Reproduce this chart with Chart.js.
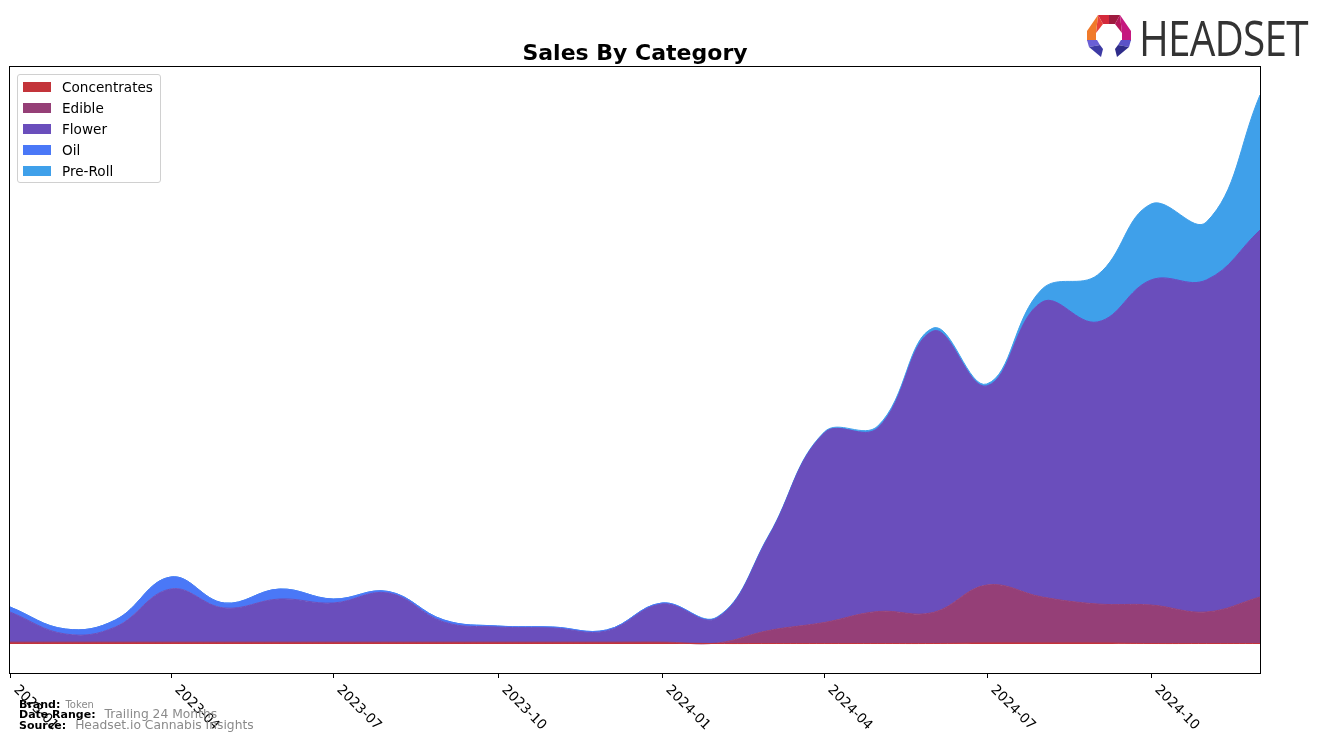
<!DOCTYPE html>
<html>
<head>
<meta charset="utf-8">
<script src="https://cdn.jsdelivr.net/npm/chart.js@4.4.0/dist/chart.umd.min.js"></script>
<style>
  html, body { margin: 0; padding: 0; background: #fff; }
  body { width: 1324px; height: 743px; position: relative; overflow: hidden; font-family: "DejaVu Sans", sans-serif; }
  #wrap { position: absolute; left: 0; top: 0; width: 1324px; height: 743px; }
  .title { position: absolute; left: 0; width: 1270px; top: 40px; text-align: center; font-size: 22px; font-weight: bold; color: #000; line-height: 26px; }
  .legend { position: absolute; left: 17px; top: 74px; width: 142px; height: 107px; border: 1px solid #d0d0d0; border-radius: 3px; background: rgba(255,255,255,0.85); }
  .legend .item { position: absolute; left: 5px; height: 14px; font-size: 13.6px; line-height: 14px; color: #000; }
  .legend .sw { position: absolute; left: 0; top: 2px; width: 28px; height: 10px; }
  .legend .lab { position: absolute; left: 39px; top: 0; white-space: nowrap; }
  .foot { position: absolute; left: 19px; white-space: nowrap; color: #000; }
  .foot b { font-size: 11px; }
  .foot span { color: #8a8a8a; }
  .logoText { position: absolute; left: 1139px; top: 9px; font-family: "Open Sans", sans-serif; font-size: 50px; line-height: 56px; color: #333; transform-origin: 0 0; transform: scaleX(0.81); letter-spacing: -1px; }
</style>
</head>
<body>
<div id="wrap"><canvas id="c" width="1324" height="743"></canvas></div>
<div class="title">Sales By Category</div>
<div class="legend" id="legend"></div>
<svg style="position:absolute;left:1086px;top:14px" width="46" height="45" viewBox="0 0 46 45">
  <polygon points="12,1 23,1 23,10 17,10" fill="#d42a3c"/>
  <polygon points="23,1 34,1 29,10 23,10" fill="#9e1b3f"/>
  <polygon points="12,1 17,10 10,19" fill="#e8413a"/>
  <polygon points="34,1 29,10 36,19" fill="#b5185a"/>
  <polygon points="12,1 10,19 10,27 1,27 1,17" fill="#f07a2a"/>
  <polygon points="34,1 36,19 36,27 45,27 45,17" fill="#c5187f"/>
  <polygon points="1,26 11,26 14,31 3,33" fill="#6a5fd6"/>
  <polygon points="3,33 14,31 17,35 15,43" fill="#3d3aa4"/>
  <polygon points="45,26 35,26 32,31 43,33" fill="#5a52c8"/>
  <polygon points="43,33 32,31 29,35 31,43" fill="#2e2c8a"/>
</svg>
<div class="logoText">HEADSET</div>
<div class="foot" style="top:693px;"><b>Brand:</b> <span style="font-size:10px;">Token</span></div>
<div class="foot" style="top:703px;"><b>Date Range:</b> <span style="font-size:12.3px;">&nbsp;Trailing 24 Months</span></div>
<div class="foot" style="top:714px;"><b>Source:</b> <span style="font-size:12.3px;">&nbsp;Headset.io Cannabis Insights</span></div>
<script>
// ---- Data ----
const months = ['2023-01','2023-02','2023-03','2023-04','2023-05','2023-06','2023-07','2023-08','2023-09','2023-10','2023-11','2023-12',
                '2024-01','2024-02','2024-03','2024-04','2024-05','2024-06','2024-07','2024-08','2024-09','2024-10','2024-11','2024-12'];
const concentrates = [1,1,1,1,1,1,1,1,1,1,1,1,1,0.5,0.5,0.5,0.5,0.5,1,1,1,0.5,0.5,0.5];
const edible       = [1,1,1,1,1,1,1,1,1,1,1,1,1,0.5,13,21,32,31,58,46,39,38.5,31.5,46.5];
const flower       = [30,8,15,53,34,43,39,49,20,15,14,11,38,25,94.5,189.5,183.5,281.5,199,295,282,325,332,367];
const oil          = [5,5,7,12,5,10,4,1.5,2,1,1,1,1,0.5,0,0,0,0,0,0,0,0,0,0];
const preRoll      = [0,0,0,0,0,0,0,0,0,0,0,0,0,0.5,1,1,2,3,2,13,47,76,58,135];
const tickLabels   = ['2023-01','2023-04','2023-07','2023-10','2024-01','2024-04','2024-07','2024-10'];
const seriesNames  = ['Concentrates','Edible','Flower','Oil','Pre-Roll'];
const seriesColors = ['#c3343a','#953f77','#6a4ebc','#4a78f7','#3fa0ea'];

function dayIndex(s) {
  const [y, m] = s.split('-').map(Number);
  return (Date.UTC(y, m - 1, 1) - Date.UTC(2023, 0, 1)) / 86400000;
}

const seriesValues = [concentrates, edible, flower, oil, preRoll];
const datasets = seriesValues.map((vals, k) => ({
  label: seriesNames[k],
  data: months.map((m, i) => ({ x: dayIndex(m), y: vals[i] })),
  backgroundColor: seriesColors[k],
  borderColor: seriesColors[k],
  borderWidth: 1,
  pointRadius: 0,
  fill: k === 0 ? 'origin' : '-1',
  tension: 0.4
}));

// legend (HTML)
const lg = document.getElementById('legend');
seriesNames.forEach((n, k) => {
  const d = document.createElement('div');
  d.className = 'item';
  d.style.top = (5 + k * 21) + 'px';
  d.innerHTML = '<div class="sw" style="background:' + seriesColors[k] + '"></div><div class="lab">' + n + '</div>';
  lg.appendChild(d);
});

const framePlugin = {
  id: 'frame',
  afterDraw(chart) {
    const { ctx, chartArea: a, scales: { x } } = chart;
    ctx.save();
    ctx.strokeStyle = '#000';
    ctx.lineWidth = 1;
    ctx.strokeRect(Math.round(a.left) - 0.5, Math.round(a.top) - 0.5, Math.round(a.right - a.left) + 1, Math.round(a.bottom - a.top) + 1);
    ctx.font = '13.6px "DejaVu Sans"';
    ctx.fillStyle = '#000';
    ctx.textAlign = 'left';
    ctx.textBaseline = 'top';
    tickLabels.forEach(t => {
      const px = Math.round(x.getPixelForValue(dayIndex(t))) + 0.5;
      ctx.beginPath();
      ctx.moveTo(px, a.bottom);
      ctx.lineTo(px, a.bottom + 5);
      ctx.stroke();
      ctx.save();
      ctx.translate(px + 10, a.bottom + 10);
      ctx.rotate(Math.PI / 4);
      ctx.fillText(t, 0, 0);
      ctx.restore();
    });
    ctx.restore();
  }
};

new Chart(document.getElementById('c'), {
  type: 'line',
  data: { datasets },
  options: {
    responsive: false,
    animation: false,
    devicePixelRatio: 1,
    layout: { padding: { left: 10, right: 64, top: 67, bottom: 70 } },
    plugins: { legend: { display: false }, title: { display: false }, tooltip: { enabled: false } },
    scales: {
      x: { type: 'linear', display: false, min: 0, max: dayIndex('2024-12') },
      y: { stacked: true, display: false, min: -29, max: 577 }
    },
    elements: { line: { capBezierPoints: true } }
  },
  plugins: [framePlugin]
});
</script>
</body>
</html>
